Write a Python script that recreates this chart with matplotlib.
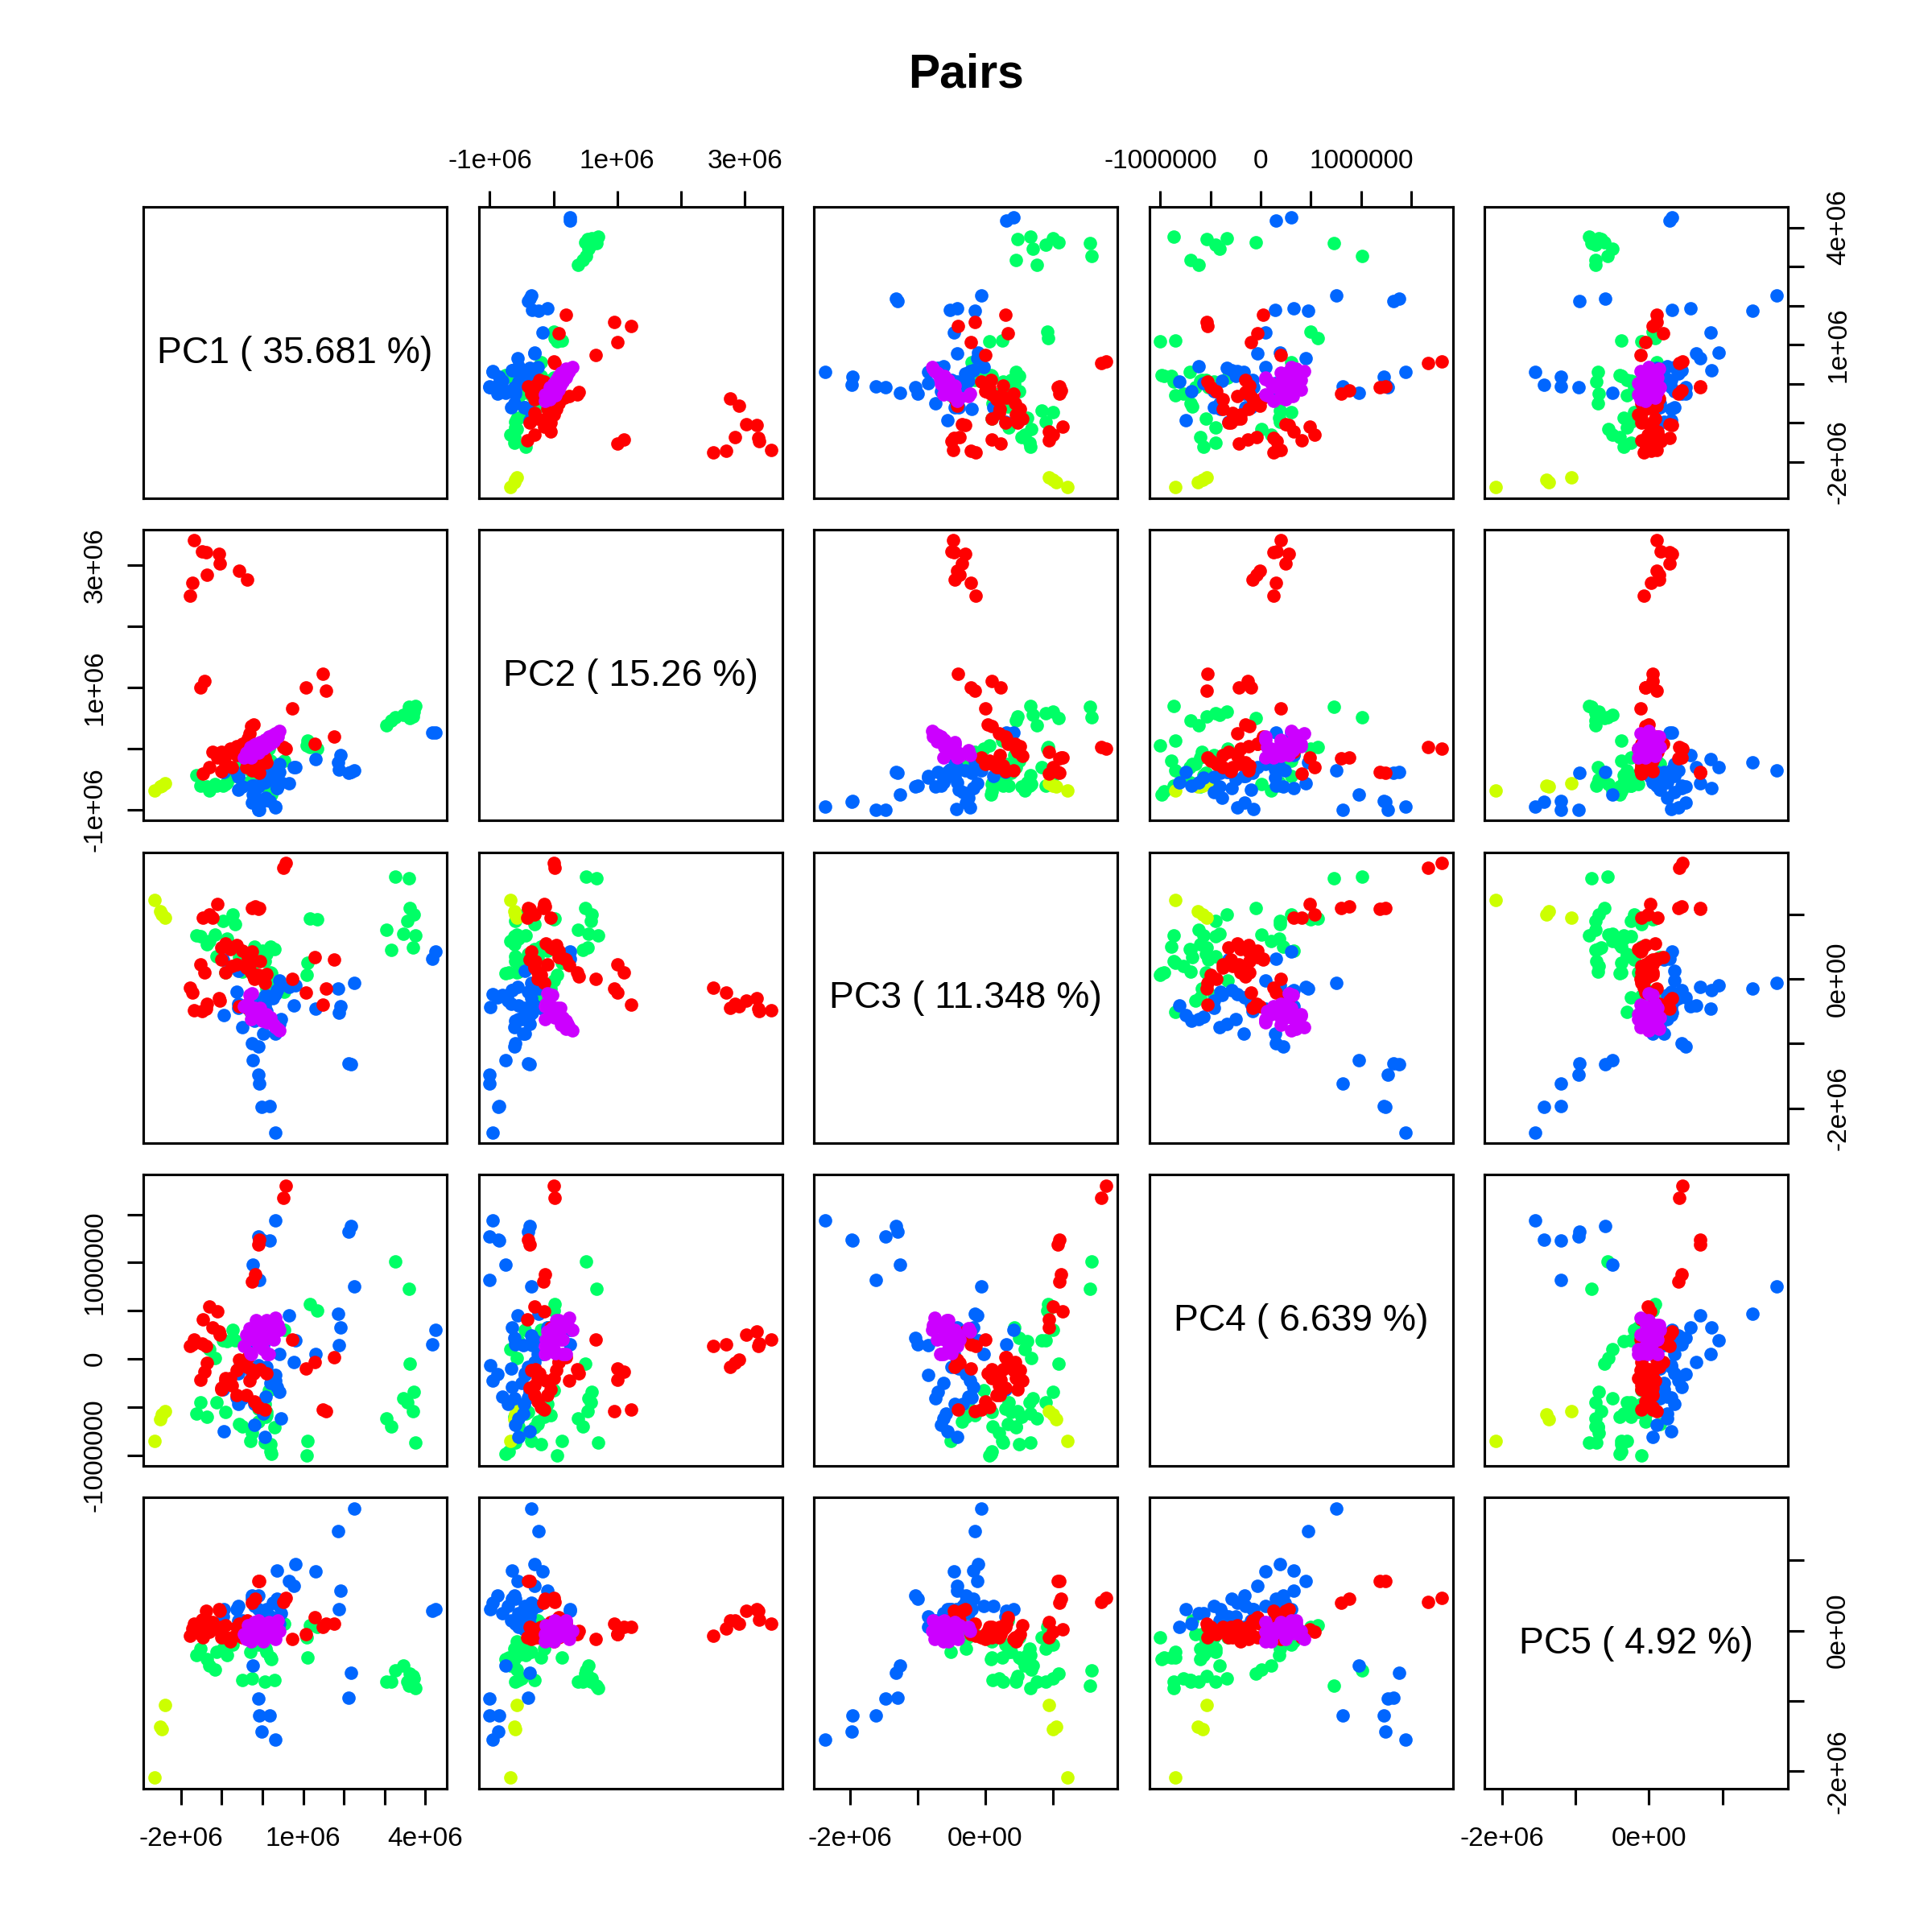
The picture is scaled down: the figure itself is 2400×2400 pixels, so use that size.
import numpy as np
import matplotlib
matplotlib.use('Agg')
import matplotlib.pyplot as plt

plt.rcParams['font.family'] = ['Liberation Sans', 'DejaVu Sans']

# scores in units of 1e6, columns are PC1..PC5
red = [
    (-.37, 2.77, -.45, -.08, .14), (-.57, 2.91, -.42, -.01, .10), (-1.04, 3.03, -.34, .25, .28),
    (-1.07, 3.19, -.30, .28, .31), (-1.36, 2.85, -.38, -.04, .14), (-1.38, 3.21, -.46, .13, .28),
    (-1.48, 3.23, -.50, .16, .16), (-1.69, 3.41, -.48, .20, .10), (-1.73, 2.71, -.21, .15, .03),
    (-1.77, 2.50, -.14, .13, -.07),
    (.57, 0.0, 1.79, 1.80, .46), (.52, .02, 1.72, 1.67, .41),
    (-1.53, 1.0, .23, -.22, -.05), (-1.43, 1.11, .10, -.13, .05),
    (1.76, .20, .30, .02, .10), (1.29, .08, .33, -.03, .19), (1.57, .95, -.15, -.54, .10),
    (1.48, 1.22, -.40, -.53, .05), (1.06, 1.0, -.21, -.10, -.05), (.74, .66, 0.0, .20, -.12),
    (-.25, -.16, 1.10, .80, .40), (-.18, -.14, 1.12, .88, .45),
    (-.10, -.38, 1.08, 1.19, .70), (-.07, -.40, 1.10, 1.24, .70),
    (-1.10, -.15, 1.15, .49, .02), (-1.46, -.41, .94, .41, -.10),
    (-1.23, -.05, .94, .33, .12), (-1.30, -.30, 1.0, .54, -.02),
    (-.22, .40, .04, -.15, .0), (-.28, .37, .10, -.11, -.05), (-.31, .25, .21, -.23, -.02),
    (-.35, .17, .31, .02, .10), (-.50, .08, .44, -.03, -.10), (-.64, .04, .52, -.12, -.05),
    (-.80, 0.0, .46, -.20, -.15), (-1.0, -.05, .48, -.32, -.10), (-.64, -.10, .22, -.38, .05),
    (-.20, -.25, 0.0, -.44, -.05), (-.10, -.20, .06, -.50, .05), (-.40, -.30, .17, -.38, 0.0),
    (-.75, -.30, .20, -.28, -.10), (-1.0, -.37, .30, -.30, .05), (-.90, -.25, .10, -.20, -.10),
    (-.25, -.35, .42, -.12, -.12), (-.05, -.28, .27, -.11, .02), (.10, -.22, .08, -.15, -.08),
    (.05, -.15, -.06, -.53, -.10), (-.90, -.12, .55, -.23, .08),
]

yellow = [
    (-2.65, -.68, 1.22, -.85, -2.09), (-2.52, -.62, 1.05, -.63, -1.37),
    (-2.40, -.57, .94, -.54, -1.06), (-2.47, -.60, 1.0, -.58, -1.40),
]

green = [
    (3.27, .51, 1.58, 1.01, -.56), (3.60, .68, 1.55, .73, -.78), (3.62, .50, 1.09, -.05, -.61),
    (3.72, .60, 1.0, -.34, -.68), (3.55, .58, .90, -.45, -.73), (3.04, .38, .76, -.62, -.73),
    (3.45, .55, .70, -.41, -.50), (3.76, .70, .67, -.87, -.82), (3.16, .46, .45, -.70, -.73),
    (3.70, .53, .48, -.54, -.65),
    (1.34, 0.0, .92, .50, .05), (1.17, .02, .93, .57, .08), (1.10, .13, .25, -.85, -.38), (1.08, .05, .06, -1.0, -.10),
    (-.73, -.45, 1.0, .30, -.20), (-.68, -.30, .84, .19, -.10), (-.97, -.60, .90, .19, -.25),
    (0.0, -.10, .43, .33, -.15), (-.20, -.20, .50, .22, -.10), (-.87, -.55, .62, .18, -.35),
    (-1.31, -.68, .58, .10, -.50), (-1.17, -.58, .68, .01, -.55), (-1.62, -.44, .67, -.57, -.35),
    (-1.52, -.61, .66, -.45, -.25), (-1.36, -.62, .54, -.60, -.40),
    (-.10, -.45, .30, -.52, -.20), (.10, -.40, .38, -.55, -.30), (-.50, -.55, .11, -.70, -.70),
    (-.25, -.50, .20, -.77, -.68), (.06, -.60, .27, -.87, -.72), (.30, -.30, .46, -.71, -.70),
    (.20, -.20, .50, -.89, -.38), (.20, -.70, .10, -.96, -.38), (.22, -.75, .09, -.99, -.40),
    (-.30, -.35, -.51, -.85, -.30), (-.10, -.25, -.34, -.65, -.05), (.05, -.10, -.26, -.47, -.10),
    (.10, -.05, -.15, -.59, -.05), (.15, 0.0, -.02, -.33, -.10),
    (-1.13, -.60, .35, -.45, -.30), (-.90, -.58, .10, -.55, -.15), (-.58, -.25, .33, -.68, .15),
    (.54, -.20, -.20, .30, .10), (.08, -.15, -.29, -.60, -.25),
]

blue = [
    (4.25, .26, .42, .30, .31), (4.18, .26, .31, .15, .28),
    (.31, -.95, -2.37, 1.44, -1.55), (.18, -.85, -1.96, 1.23, -1.20), (-.02, -.87, -1.98, 1.24, -1.43),
    (-.07, -1.0, -1.62, .82, -1.20), (-.09, -1.0, -1.48, 1.27, -.96), (-.23, -.75, -1.26, .98, -.50),
    (2.18, -.38, -1.32, 1.38, -.60), (2.12, -.40, -1.30, 1.32, -.95),
    (2.25, -.35, -.06, .75, 1.74), (1.86, -.23, -.15, .47, 1.41), (1.92, -.10, -.42, .33, .57),
    (1.88, -.34, -.52, .14, .31), (1.30, -.17, -.46, .05, .84), (.77, -.30, -.41, -.03, .64),
    (-.09, -.62, -1.04, .22, .50), (-.25, -.60, -1.0, .15, .45),
    (.66, -.56, -.12, .45, .70), (.35, -.65, -.18, .33, .85), (.80, -.30, -.10, .19, .95),
    (.42, -.25, -.02, .05, .35), (.01, -.48, -.85, .14, .20), (.31, -.45, -.85, -.17, .05),
    (.41, -.38, -.70, -.34, .10),
    (-.97, -.38, .30, -.32, .20), (-.60, -.45, .12, -.15, .35), (-.64, -.40, -.20, -.40, .30),
    (-.09, -.99, -.43, -.07, .30), (.32, -.96, -.23, -.23, .40), (.35, -.65, -.18, -.29, .45),
    (.08, -.80, -.25, -.39, .25), (-.19, -.71, -.33, -.47, .35), (-.26, -.88, -.28, -.16, .50),
    (-.60, -.67, -.39, -.10, .15), (-.60, -.46, -.45, -.47, .02), (-.94, -.38, -.56, -.75, .30),
    (.01, -.48, -.58, -.57, .25), (-.19, -.60, -.65, -.69, .10), (.05, -.55, -.41, -.81, .05),
    (-.50, -.62, -.74, -.41, .15), (.20, -.50, -.62, -.25, .20),
    (.25, -.35, -.30, .24, .40), (.10, -.40, -.50, -.08, .30), (.45, -.55, -.62, -.62, .25),
]

magenta = [
    (-.31, -.02, -.25, .32, .05), (-.25, -.10, -.22, .28, 0.0), (-.45, -.14, -.42, .13, -.05),
    (-.40, -.06, -.40, .25, -.12), (-.35, -.12, -.38, .20, .08), (-.30, .03, -.50, .06, -.08),
    (-.28, -.14, -.62, .05, -.15), (-.20, .06, -.45, .20, .12), (-.10, -.06, -.50, .15, .04),
    (-.05, .10, -.45, .30, -.04), (.02, 0.0, -.55, .10, -.15), (.05, .14, -.60, .20, .08),
    (.10, .04, -.55, .40, 0.0), (.15, .20, -.65, .05, .12), (.20, .08, -.60, .25, -.08),
    (.25, .22, -.70, .35, -.04), (.28, .12, -.71, .20, .04), (.32, .25, -.75, .43, -.12),
    (.38, .20, -.77, .35, .14), (.42, .29, -.79, .30, 0.0), (-.15, .08, -.57, .40, -.06),
    (0.0, .10, -.65, .35, .10), (.12, .14, -.67, .05, -.02), (-.10, .02, -.60, .30, .15),
]

group_data = [green, yellow, blue, red, magenta]
group_colors = ['#00FF66', '#CCFF00', '#0066FF', '#FF0000', '#CC00FF']

diag_labels = ['PC1 ( 35.681 %)', 'PC2 ( 15.26 %)', 'PC3 ( 11.348 %)', 'PC4 ( 6.639 %)', 'PC5 ( 4.92 %)']

# tick value -> label, '' where R dropped the label
sci_ticks = {
    0: ([-2, -1, 0, 1, 2, 3, 4], ['-2e+06', '', '', '1e+06', '', '', '4e+06']),
    1: ([-1, 0, 1, 2, 3], ['-1e+06', '', '1e+06', '', '3e+06']),
    2: ([-2, -1, 0, 1], ['-2e+06', '', '0e+00', '']),
    3: ([-1, -.5, 0, .5, 1, 1.5], ['-1000000', '', '0', '', '1000000', '']),
    4: ([-2, -1, 0, 1], ['-2e+06', '', '0e+00', '']),
}

n = 5
W = 2400.0
left0, xstep, pw = 178.0, 416.5, 377.0
top0, ystep, ph = 257.0, 400.8, 361.5

all_pts = np.array([p for g in group_data for p in g])
lims = []
for k in range(n):
    lo, hi = all_pts[:, k].min(), all_pts[:, k].max()
    pad = 0.04 * (hi - lo)
    lims.append((lo - pad, hi + pad))

fig = plt.figure(figsize=(8, 8), dpi=300)
LW = 0.75
TICK_SIZE = 8.0
for r in range(n):
    for c in range(n):
        ax = fig.add_axes([(left0 + c * xstep) / W, 1 - (top0 + r * ystep + ph) / W, pw / W, ph / W])
        for sp in ax.spines.values():
            sp.set_linewidth(LW)
        ax.set_xlim(lims[c])
        ax.set_ylim(lims[r])
        ax.set_xticks([])
        ax.set_yticks([])
        if r == c:
            ax.text(0.5, 0.497, diag_labels[r], transform=ax.transAxes, ha='center', va='center', fontsize=11.1)
        else:
            for pts, col in zip(group_data, group_colors):
                arr = np.array(pts)
                ax.scatter(arr[:, c], arr[:, r], s=16, color=col, linewidths=0, clip_on=False)
        if r == 0 and c % 2 == 1:
            ax.xaxis.tick_top()
            ax.set_xticks(sci_ticks[c][0], sci_ticks[c][1])
            ax.tick_params(axis='x', length=4.8, width=LW, labelsize=TICK_SIZE, pad=5)
        if r == n - 1 and c % 2 == 0:
            ax.set_xticks(sci_ticks[c][0], sci_ticks[c][1])
            ax.tick_params(axis='x', length=4.8, width=LW, labelsize=TICK_SIZE, pad=6.5)
        if c == 0 and r % 2 == 1:
            ax.set_yticks(sci_ticks[r][0], sci_ticks[r][1], rotation=90, va='center')
            ax.tick_params(axis='y', length=4.8, width=LW, labelsize=TICK_SIZE, pad=5.8)
        if c == n - 1 and r % 2 == 0:
            ax.yaxis.tick_right()
            ax.set_yticks(sci_ticks[r][0], sci_ticks[r][1], rotation=90, va='center')
            ax.tick_params(axis='y', length=4.8, width=LW, labelsize=TICK_SIZE, pad=6.5)

fig.text(0.5, 1 - 93 / W, 'Pairs', ha='center', va='center', fontsize=14.1, fontweight='bold')
fig.savefig('out.png', dpi=300)
